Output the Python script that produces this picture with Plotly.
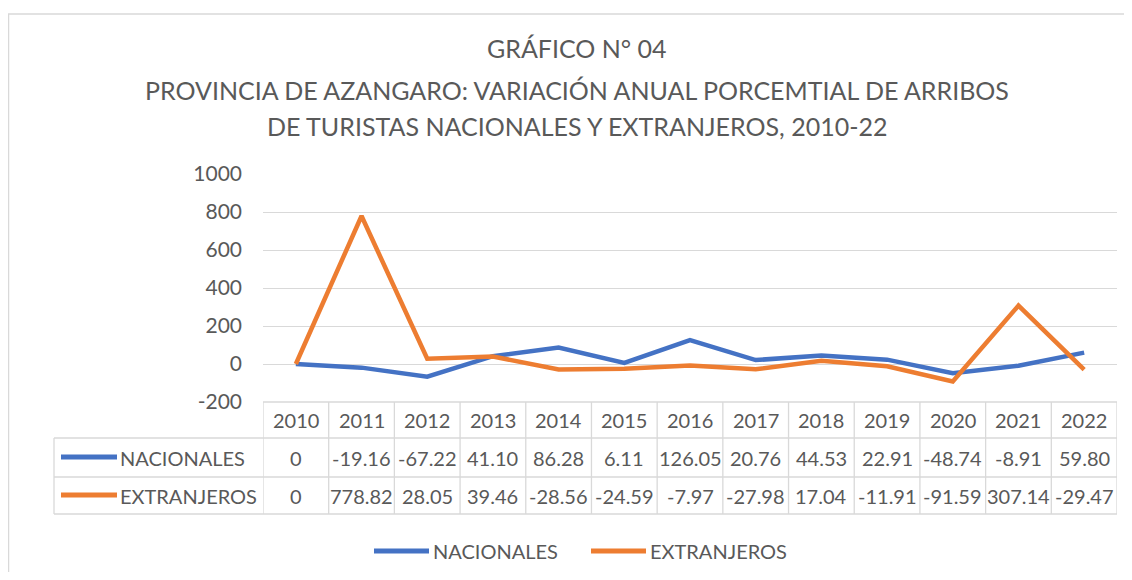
import plotly.graph_objects as go

years = [2010, 2011, 2012, 2013, 2014, 2015, 2016, 2017, 2018, 2019, 2020, 2021, 2022]
nacionales = [0, -19.16, -67.22, 41.10, 86.28, 6.11, 126.05, 20.76, 44.53, 22.91, -48.74, -8.91, 59.80]
extranjeros = [0, 778.82, 28.05, 39.46, -28.56, -24.59, -7.97, -27.98, 17.04, -11.91, -91.59, 307.14, -29.47]
nac_labels = ["0", "-19.16", "-67.22", "41.10", "86.28", "6.11", "126.05", "20.76", "44.53", "22.91", "-48.74", "-8.91", "59.80"]
ext_labels = ["0", "778.82", "28.05", "39.46", "-28.56", "-24.59", "-7.97", "-27.98", "17.04", "-11.91", "-91.59", "307.14", "-29.47"]
y_ticks = [-200, 0, 200, 400, 600, 800, 1000]
y_tick_labels = ["-200", "0", "200", "400", "600", "800", "1000"]
series_names = ["NACIONALES", "EXTRANJEROS"]
colors = ["#4472C4", "#ED7D31"]
title_lines = ["GRÁFICO N° 04",
               "PROVINCIA DE AZANGARO: VARIACIÓN ANUAL PORCEMTIAL DE ARRIBOS",
               "DE TURISTAS NACIONALES Y EXTRANJEROS, 2010-22"]

# page body has an 8px margin; layout is expressed in screen pixels and shifted
OFF = 8
W, H = 1132 - 2 * OFF, 580 - 2 * OFF
L, R, T, B = 263, 1117, 174, 402   # plot area in screen pixels
FONT = "Lato"
TXT = "#595959"
GRID = "#D9D9D9"


def px(p):
    return (p - L) / (R - L)


def py(p):
    return (B - p) / (B - T)


fig = go.Figure()
for name, vals, c in zip(series_names, [nacionales, extranjeros], colors):
    fig.add_trace(go.Scatter(x=years, y=vals, name=name, mode="lines",
                             line=dict(color=c, width=4.5), showlegend=False))

shapes = []
annotations = []

# outer chart border
shapes.append(dict(type="rect", xref="paper", yref="paper", x0=px(8.5), x1=px(1150),
                   y0=py(600), y1=py(14), line=dict(color=GRID, width=1.5), layer="below"))

# data table grid
row_y = [402, 438, 477, 514]
shapes.append(dict(type="line", xref="paper", yref="paper", x0=0, x1=1, y0=py(402), y1=py(402),
                   line=dict(color=GRID, width=1.3)))
for yy in row_y[1:]:
    shapes.append(dict(type="line", xref="paper", yref="paper", x0=px(54), x1=1, y0=py(yy), y1=py(yy),
                       line=dict(color=GRID, width=1.3)))
for i in range(len(years) + 1):
    xv = years[0] - 0.5 + i
    shapes.append(dict(type="line", xref="x", yref="paper", x0=xv, x1=xv, y0=py(402), y1=py(514),
                       line=dict(color=GRID, width=1.3)))
shapes.append(dict(type="line", xref="paper", yref="paper", x0=px(54), x1=px(54), y0=py(438), y1=py(514),
                   line=dict(color=GRID, width=1.3)))

# table text
tfont = dict(family=FONT, size=20, color=TXT)
for i, yv in enumerate(years):
    for text, yy in [(str(yv), 420), (nac_labels[i], 458), (ext_labels[i], 496)]:
        annotations.append(dict(x=yv, y=py(yy), xref="x", yref="paper", text=text, showarrow=False,
                                xanchor="center", yanchor="middle", font=tfont))

# legend keys in table
for name, c, yy in zip(series_names, colors, [458, 496]):
    shapes.append(dict(type="line", xref="paper", yref="paper", x0=px(61), x1=px(117), y0=py(yy - 1), y1=py(yy - 1),
                       line=dict(color=c, width=5)))
    annotations.append(dict(x=px(118), y=py(yy), xref="paper", yref="paper", text=name, showarrow=False,
                            xanchor="left", yanchor="middle", font=tfont))

# bottom legend
for name, c, x0, x1 in zip(series_names, colors, [374, 591], [429, 646]):
    shapes.append(dict(type="line", xref="paper", yref="paper", x0=px(x0), x1=px(x1), y0=py(551), y1=py(551),
                       line=dict(color=c, width=5)))
    annotations.append(dict(x=px(x1 + 2), y=py(551), xref="paper", yref="paper", text=name, showarrow=False,
                            xanchor="left", yanchor="middle", font=tfont))

# title
for t, yy in zip(title_lines, [48, 90, 126]):
    annotations.append(dict(x=px(577), y=py(yy), xref="paper", yref="paper", text=t, showarrow=False,
                            xanchor="center", yanchor="middle", font=dict(family=FONT, size=25, color=TXT)))

fig.update_layout(
    width=W, height=H,
    margin=dict(l=L - OFF, r=W - (R - OFF), t=T - OFF, b=H - (B - OFF), pad=0),
    paper_bgcolor="white", plot_bgcolor="white",
    xaxis=dict(range=[years[0] - 0.5, years[-1] + 0.5], showticklabels=False, showgrid=False,
               zeroline=False, showline=False, ticks=""),
    yaxis=dict(range=[-200, 1000], tickvals=y_ticks, ticktext=y_tick_labels, showgrid=True,
               gridcolor=GRID, gridwidth=1.3, zeroline=False, showline=False, ticks="",
               ticklabelstandoff=20, tickfont=dict(family=FONT, size=21, color=TXT)),
    showlegend=False,
    shapes=shapes, annotations=annotations,
)

fig.write_html("out.html")
